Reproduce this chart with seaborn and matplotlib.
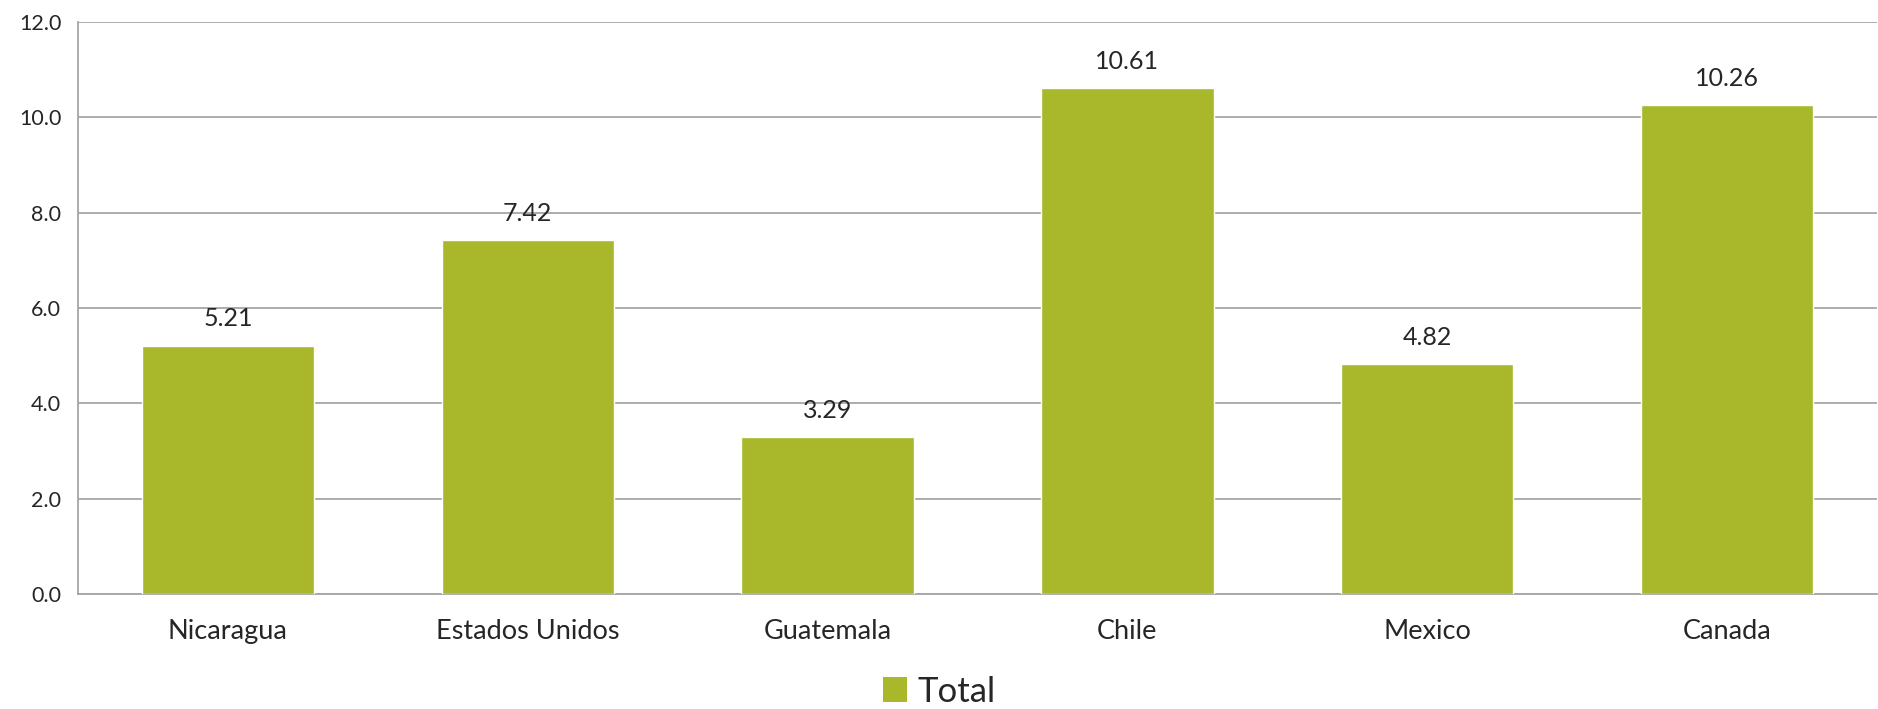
import pandas as pd
import matplotlib
matplotlib.use("Agg")
import matplotlib.pyplot as plt
import seaborn as sns
from matplotlib.patches import Patch

# -------------------------------
# Data
# -------------------------------

countries = ["Nicaragua", "Estados Unidos", "Guatemala", "Chile", "Mexico", "Canada"]
totals = [5.21, 7.42, 3.29, 10.61, 4.82, 10.26]
y_ticks = [0, 2, 4, 6, 8, 10, 12]

df = pd.DataFrame({"pais": countries, "total": totals})

bar_color = "#A8B82A"
grid_color = "#A6A6A6"

# -------------------------------
# Plot
# -------------------------------

sns.set_style("white")
plt.rcParams["font.family"] = ["Lato", "DejaVu Sans"]

fig = plt.figure(figsize=(18.78, 7.09), dpi=100)
ax = fig.add_axes([0.0415, 0.162, 0.958, 0.807])

sns.barplot(
    data=df,
    x="pais",
    y="total",
    color=bar_color,
    saturation=1,
    width=0.575,
    ax=ax,
    zorder=3,
)

ax.set_ylim(0, 12)
ax.set_yticks(y_ticks)
ax.set_yticklabels([f"{v:.1f}" for v in y_ticks], fontsize=15.5)
ax.tick_params(axis="x", labelsize=19.5, length=0, pad=18)
ax.tick_params(axis="y", length=0, pad=12)
ax.set_xlabel("")
ax.set_ylabel("")

ax.yaxis.grid(True, color=grid_color, linewidth=1.3, zorder=0)
ax.set_axisbelow(True)
for side in ["top", "right"]:
    ax.spines[side].set_visible(False)
for side in ["left", "bottom"]:
    ax.spines[side].set_color(grid_color)
    ax.spines[side].set_linewidth(1.3)

for container in ax.containers:
    ax.bar_label(container, fmt="%.2f", padding=11, fontsize=18)

handles = [Patch(facecolor=bar_color, edgecolor="none", label="Total")]
fig.legend(
    handles=handles,
    loc="lower center",
    bbox_to_anchor=(0.5, -0.042),
    frameon=False,
    fontsize=25,
    handlelength=0.7,
    handleheight=0.7,
    handletextpad=0.3,
)

plt.savefig("out.png", dpi=100)
plt.close()
